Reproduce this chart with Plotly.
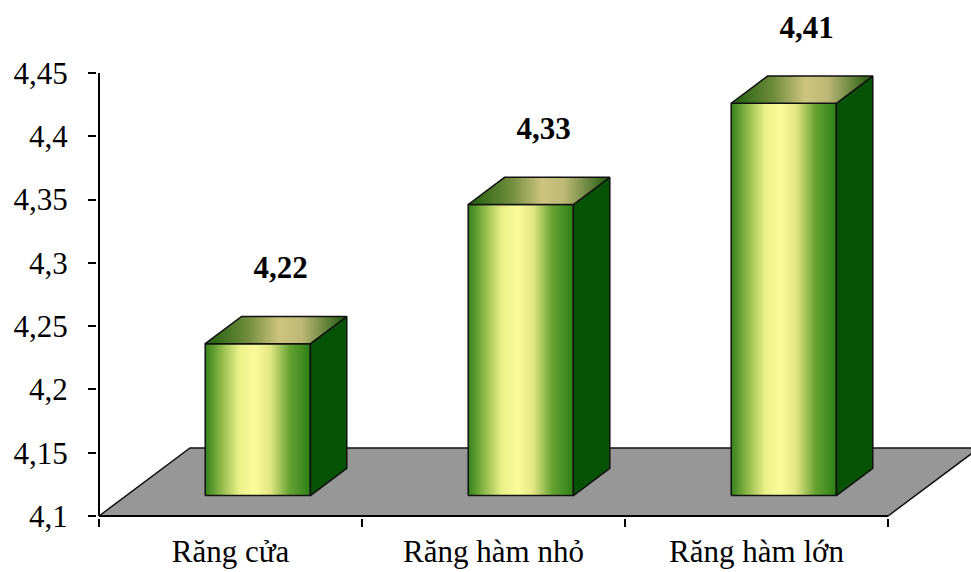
import plotly.graph_objects as go

# Data
CATEGORIES = ["Răng cửa", "Răng hàm nhỏ", "Răng hàm lớn"]
VALUES = [4.22, 4.33, 4.41]
Y_TICKS = [4.10, 4.15, 4.20, 4.25, 4.30, 4.35, 4.40, 4.45]
Y_TICK_TEXT = ["4,1", "4,15", "4,2", "4,25", "4,3", "4,35", "4,4", "4,45"]

# Geometry of the pseudo-3D scene (axis units)
Y_BASE = 4.10          # floor level
Y_TOP = 4.45           # top of the value axis
PX_PER_CAT = 263.0     # pixel size of one category
PX_PER_UNIT = 443.0 / 0.35
DEPTH_DX = 91.0 / PX_PER_CAT     # floor depth, horizontal component
DEPTH_DY = 68.0 / PX_PER_UNIT    # floor depth, vertical component
BAR_FRONT = 0.30       # depth fraction of the bar front face
BAR_BACK = 0.70        # depth fraction of the bar back face
BAR_WIDTH = 0.40       # fraction of a category
LABEL_GAP = 46.0 / PX_PER_UNIT

W, H = 971, 572
M_L, M_R, M_T, M_B = 97, 0, 0, 54
pad_x = (99 - M_L) / PX_PER_CAT
pad_y = (H - M_B - 516) / PX_PER_UNIT
x_range = [-0.5 - pad_x, -0.5 - pad_x + (W - M_L - M_R) / PX_PER_CAT]
y_range = [Y_BASE - pad_y, Y_BASE - pad_y + (H - M_T - M_B) / PX_PER_UNIT]

FRONT_SCALE = [[0.0, "#34801a"], [0.14, "#86b444"], [0.32, "#eaf088"],
               [0.47, "#fbfb9b"], [0.62, "#e2e682"], [0.8, "#66a232"],
               [1.0, "#2c8016"]]
TOP_SCALE = [[0.0, "#1f5e0c"], [0.3, "#6f8c3c"], [0.52, "#cdc47e"],
             [0.68, "#bdb876"], [1.0, "#1c580c"]]
SIDE_COLOR = "#065306"
FLOOR_COLOR = "#979797"
EDGE = dict(color="#111111", width=1.5)
FONT = "Liberation Serif, Times New Roman, serif"

fig = go.Figure()


def face(xs, ys, **kw):
    fig.add_trace(go.Scatter(
        x=xs + [xs[0]], y=ys + [ys[0]], mode="lines", fill="toself",
        line=EDGE, hoverinfo="skip", showlegend=False, **kw))


# Floor
n = len(CATEGORIES)
fx = [-0.5, n - 0.5, n - 0.5 + DEPTH_DX, -0.5 + DEPTH_DX]
fy = [Y_BASE, Y_BASE, Y_BASE + DEPTH_DY, Y_BASE + DEPTH_DY]
face(fx, fy, fillcolor=FLOOR_COLOR)

# Bars: front face, right side and top
for i, v in enumerate(VALUES):
    ox, oy = BAR_FRONT * DEPTH_DX, BAR_FRONT * DEPTH_DY
    bx, by = BAR_BACK * DEPTH_DX, BAR_BACK * DEPTH_DY
    x0 = i - BAR_WIDTH / 2
    x1 = i + BAR_WIDTH / 2
    # front
    face([x0 + ox, x1 + ox, x1 + ox, x0 + ox],
         [Y_BASE + oy, Y_BASE + oy, v + oy, v + oy],
         fillgradient=dict(type="horizontal", colorscale=FRONT_SCALE))
    # right side
    face([x1 + ox, x1 + bx, x1 + bx, x1 + ox],
         [Y_BASE + oy, Y_BASE + by, v + by, v + oy],
         fillcolor=SIDE_COLOR)
    # top
    face([x0 + ox, x1 + ox, x1 + bx, x0 + bx],
         [v + oy, v + oy, v + by, v + by],
         fillgradient=dict(type="horizontal", colorscale=TOP_SCALE))

# Value labels above each bar
fig.add_trace(go.Scatter(
    x=[i + 0.55 * DEPTH_DX for i in range(n)],
    y=[v + BAR_BACK * DEPTH_DY + LABEL_GAP for v in VALUES],
    text=[f"{v:.2f}".replace(".", ",") for v in VALUES],
    mode="text", textposition="middle center",
    textfont=dict(family=FONT, size=31, color="black", weight="bold"),
    hoverinfo="skip", showlegend=False))

# Axis lines
fig.add_shape(type="line", x0=-0.5, x1=-0.5, y0=Y_BASE, y1=Y_TOP,
              line=dict(color="black", width=2), layer="above")
fig.add_shape(type="line", x0=-0.5, x1=n - 0.5, y0=Y_BASE, y1=Y_BASE,
              line=dict(color="black", width=2), layer="above")

fig.update_layout(
    width=W, height=H,
    margin=dict(l=M_L, r=M_R, t=M_T, b=M_B),
    paper_bgcolor="white", plot_bgcolor="white",
    font=dict(family=FONT, size=30, color="black"),
    xaxis=dict(range=x_range, showgrid=False, zeroline=False, showline=False,
               tickvals=list(range(n)), ticktext=CATEGORIES, ticks="",
               ticklabelstandoff=12,
               tickfont=dict(family=FONT, size=31, color="black"),
               minor=dict(tickvals=[k - 0.5 for k in range(n + 1)],
                          ticks="outside", ticklen=8, tickwidth=1.5,
                          tickcolor="black", showgrid=False),
               fixedrange=True),
    yaxis=dict(range=y_range, showgrid=False, zeroline=False, showline=False,
               tickvals=Y_TICKS, ticktext=Y_TICK_TEXT, ticks="outside",
               ticklen=8, tickwidth=1.5, tickcolor="black",
               ticklabelstandoff=14,
               tickfont=dict(family=FONT, size=31, color="black"),
               fixedrange=True),
)

fig.write_html("out.html")
